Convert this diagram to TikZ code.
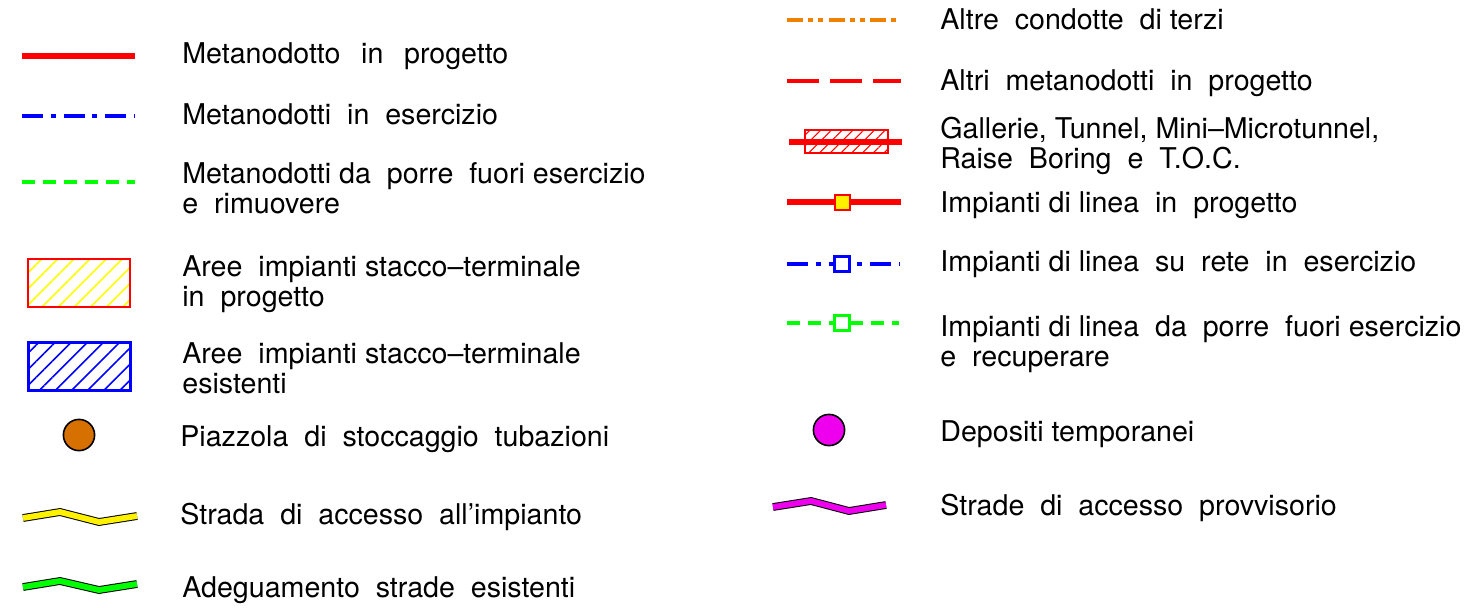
\documentclass[tikz,border=0pt]{standalone}
\usepackage{fontspec}
\setmainfont{TeX Gyre Heros}
\usepackage{tikz}
\usetikzlibrary{patterns.meta}
\definecolor{tubo}{HTML}{F08000}
\definecolor{piazza}{HTML}{D67000}
\definecolor{deposito}{HTML}{EE00EE}
\definecolor{verde}{HTML}{00FF00}

\begin{document}
\begin{tikzpicture}[
  x=0.5pt, y=-0.5pt,
  voce/.style={anchor=base west, inner sep=0pt, align=left, font=\fontsize{14.3}{15}\selectfont},
  tratto/.style={line width=2.2pt, dash pattern=on 10.5pt off 3.8pt on 2.5pt off 4pt},
  trattino/.style={line width=2pt, dash pattern=on 6.7pt off 3.8pt},
  strada/.style={line width=0.5pt, double distance=2.9pt, line join=miter},
  quadro/.style={draw, rectangle, minimum size=7.5pt, inner sep=0pt},
  tondo/.style={line width=0.8pt},
  righe/.style={pattern={Lines[angle=45,distance=5.7pt,line width=0.8pt]}}
]
\useasboundingbox (0,0) rectangle (1464,607);

% colonna sinistra
\draw[red, line width=3pt] (22,56) -- (135,56);
\node[voce] (progetto) at (182,63) {Metanodotto~ \,in~ \,progetto};

\draw[blue, tratto] (22,116) -- (135,116);
\node[voce] (esercizio) at (182,124) {Metanodotti~ in~ esercizio};

\draw[verde, trattino] (22,182) -- (135,182);
\node[voce] (rimuovere) at (182,213) {Metanodotti da~ porre~ fuori esercizio\\e~ rimuovere};

\draw[red, line width=1.2pt, righe, pattern color=yellow] (28,259) rectangle (130,307);
\node[voce] (areenuove) at (182,306) {Aree~ impianti stacco--terminale\\in~ progetto};

\draw[blue, line width=1.5pt, righe, pattern color=blue] (28,342) rectangle (130,390);
\node[voce] (areeesistenti) at (182,393) {Aree~ impianti stacco--terminale\\esistenti};

\draw[tondo, fill=piazza] (79,435) circle[radius=7.8pt];
\node[voce] (piazzola) at (180,446) {Piazzola~ di~ stoccaggio~ tubazioni};

\draw[strada, double=yellow] (23,518) -- (60,512) -- (99,522) -- (137,516);
\node[voce] (accesso) at (180,524) {Strada~ di~ accesso~ all'impianto};

\draw[strada, double=verde] (23,587) -- (60,581) -- (99,590) -- (137,584);
\node[voce] (adeguamento) at (182,597) {Adeguamento~ strade~ esistenti};

% colonna destra
\draw[tubo, line width=1.9pt, dash pattern=on 8pt off 2.5pt on 2.5pt off 2.5pt on 2.5pt off 2.8pt] (787,20) -- (897,20);
\node[voce] (terzi) at (940,29) {Altre~ condotte~ di terzi};

\draw[red, line width=2.2pt, dash pattern=on 16pt off 5.5pt] (787,81) -- (901,81);
\node[voce] (altri) at (940,90) {Altri~ metanodotti~ in~ progetto};

\draw[red, line width=0.6pt, pattern={Lines[angle=45,distance=3.8pt,line width=0.5pt]}, pattern color=red] (805,130) rectangle (888,153);
\draw[red, line width=3.2pt] (789,142) -- (902,142);
\node[voce] (gallerie) at (940,168) {Gallerie, Tunnel, Mini--Microtunnel,\\Raise~ Boring~ e~ T.O.C.};

\draw[red, line width=3pt] (787,202) -- (901,202);
\node[quadro, draw=red, fill=yellow, line width=1pt] (impnuovo) at (842,202) {};
\node[voce] (linea) at (940,212) {Impianti di linea~ in~ progetto};

\draw[blue, tratto] (787,264) -- (899,264);
\node[quadro, draw=blue, fill=white, line width=1.5pt] (impesistente) at (842,264) {};
\node[voce] (rete) at (940,271) {Impianti di linea~ su~ rete~ in~ esercizio};

\draw[verde, trattino] (787,323) -- (899,323);
\node[quadro, draw=verde, fill=white, line width=1.5pt] (imprecupero) at (842,323) {};
\node[voce] (recuperare) at (940,366) {Impianti di linea~ da~ porre~ fuori esercizio\\e~ recuperare};

\draw[tondo, fill=deposito] (829,430) circle[radius=7.8pt];
\node[voce] (depositi) at (940,441) {Depositi temporanei};

\draw[strada, double=deposito] (773,507) -- (811,501) -- (849,511) -- (886,505);
\node[voce] (provvisorio) at (940,515) {Strade~ di~ accesso~ provvisorio};
\end{tikzpicture}
\end{document}
